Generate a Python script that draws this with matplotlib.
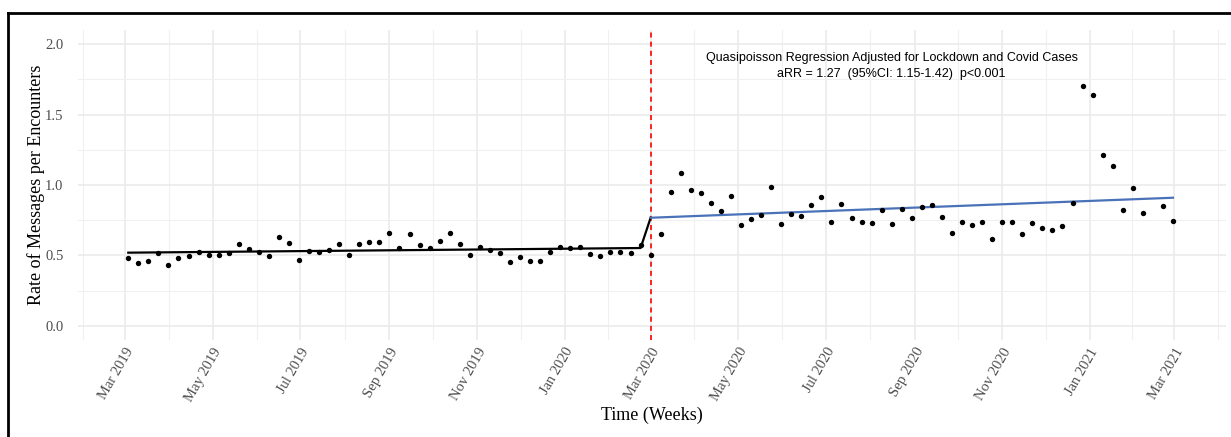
import matplotlib
matplotlib.use('Agg')
import matplotlib.pyplot as plt
from matplotlib.lines import Line2D
import numpy as np
import pandas as pd

# weekly rates, first week 2019-03-03
start_week = '2019-03-03'
rates = [0.480, 0.445, 0.463, 0.516, 0.433, 0.485, 0.494, 0.523, 0.504, 0.504,
         0.516, 0.580, 0.549, 0.528, 0.494, 0.631, 0.591, 0.468, 0.532, 0.525,
         0.537, 0.582, 0.504, 0.582, 0.596, 0.597, 0.657, 0.551, 0.652, 0.576,
         0.556, 0.606, 0.657, 0.584, 0.501, 0.558, 0.537, 0.516, 0.457, 0.492,
         0.464, 0.464, 0.528, 0.558, 0.556, 0.560, 0.511, 0.499, 0.523, 0.523,
         0.520, 0.572, 0.501,
         0.655, 0.950, 1.088, 0.965, 0.946, 0.875, 0.813, 0.922, 0.714, 0.762,
         0.790, 0.986, 0.721, 0.792, 0.783, 0.858, 0.915, 0.735, 0.868, 0.764,
         0.735, 0.730, 0.821, 0.721, 0.828, 0.766, 0.841, 0.856, 0.776, 0.662,
         0.735, 0.719, 0.738, 0.615, 0.735, 0.738, 0.650, 0.733, 0.695, 0.684,
         0.709, 0.870, 1.705, 1.643, 1.216, 1.135, 0.826, 0.977, 0.801, np.nan,
         0.854, 0.748]

# fitted values (pre period + step, post period)
pre_fit_dates = ['2019-03-03', '2020-02-23', '2020-03-01']
pre_fit = [0.520, 0.553, 0.768]
post_fit_dates = ['2020-03-01', '2021-02-28']
post_fit = [0.768, 0.910]

intervention = '2020-03-01'
tick_dates = pd.date_range('2019-03-01', '2021-03-01', freq='2MS')
y_ticks = [0.0, 0.5, 1.0, 1.5, 2.0]

weeks = pd.date_range(start_week, periods=len(rates), freq='7D')

fig = plt.figure(figsize=(12.31, 4.37), dpi=100)
ax = fig.add_axes([0.0634, 0.222, 0.996 - 0.0634, 0.931 - 0.222])

for s in ax.spines.values():
    s.set_visible(False)

# grid
major = list(tick_dates)
edges = [major[0] - pd.DateOffset(months=2)] + major + [major[-1] + pd.DateOffset(months=2)]
minor = [a + (b - a) / 2 for a, b in zip(edges[:-1], edges[1:])]
for d in minor:
    ax.axvline(d, color='#f0f0f0', lw=0.8, zorder=0)
for d in major:
    ax.axvline(d, color='#ebebeb', lw=1.2, zorder=0)
for v in [-0.25, 0.25, 0.75, 1.25, 1.75]:
    ax.axhline(v, color='#f0f0f0', lw=0.8, zorder=0)
for v in y_ticks:
    ax.axhline(v, color='#ebebeb', lw=1.2, zorder=0)

ax.scatter(weeks, rates, s=15, color='black', zorder=3, linewidths=0)
ax.plot(pd.to_datetime(pre_fit_dates), pre_fit, color='black', lw=1.6, zorder=2)
ax.plot(pd.to_datetime(post_fit_dates), post_fit, color='#4a72b9', lw=1.6, zorder=2)
ax.axvline(pd.Timestamp(intervention), color='red', lw=1.2, ls=(0, (3, 2.5)), zorder=1)

ax.text(pd.Timestamp('2020-08-16'), 1.845,
        'Quasipoisson Regression Adjusted for Lockdown and Covid Cases\n'
        'aRR = 1.27  (95%CI: 1.15-1.42)  p<0.001',
        ha='center', va='center', fontsize=9, family='Liberation Sans',
        linespacing=1.35, color='black')

ax.set_xlim(pd.Timestamp('2019-01-27'), pd.Timestamp('2021-04-06'))
ax.set_ylim(-0.1, 2.1)
ax.set_xticks(tick_dates)
ax.set_xticklabels([d.strftime('%b %Y') for d in tick_dates], rotation=60,
                   ha='right', rotation_mode='anchor', family='Liberation Serif',
                   fontsize=10.5, color='#4d4d4d')
ax.set_yticks(y_ticks)
ax.set_yticklabels(['%.1f' % v for v in y_ticks], family='Liberation Serif',
                   fontsize=10.5, color='#4d4d4d')
ax.tick_params(axis='x', length=0, pad=4)
ax.tick_params(axis='y', length=0, pad=10.5)
ax.set_xlabel('Time (Weeks)', family='Liberation Serif', fontsize=13, labelpad=2)
ax.set_ylabel('Rate of Messages per Encounters', family='Liberation Serif', fontsize=13, labelpad=0)

# outer frame (top and left edge only visible)
fig.add_artist(Line2D([8 / 1231, 1.0], [1 - 13 / 437, 1 - 13 / 437], color='black', lw=2, transform=fig.transFigure))
fig.add_artist(Line2D([8 / 1231, 8 / 1231], [0.0, 1 - 13 / 437], color='black', lw=2, transform=fig.transFigure))

fig.savefig('out.png', dpi=100)
